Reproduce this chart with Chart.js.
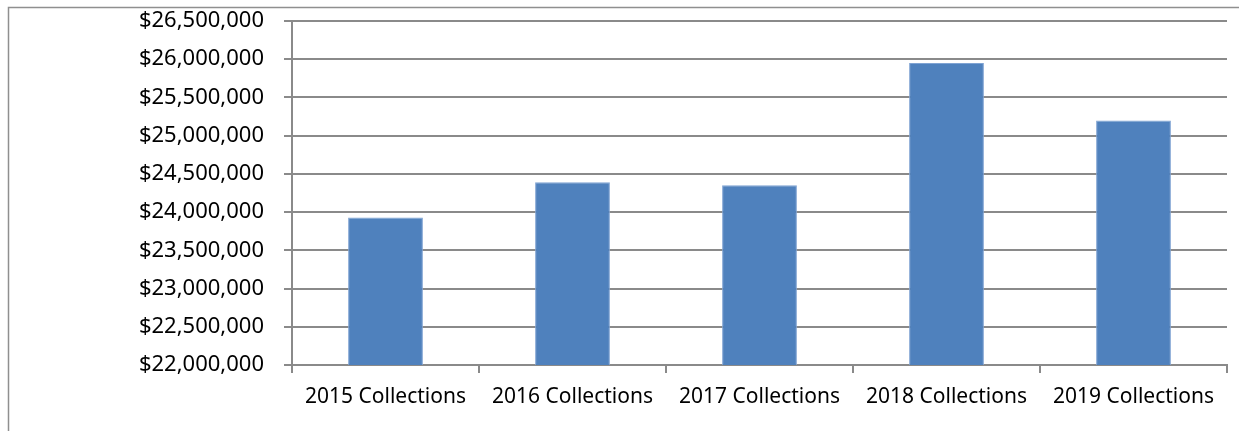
<!DOCTYPE html>
<html>
<head>
<meta charset="utf-8">
<script src="https://cdn.jsdelivr.net/npm/chart.js@4/dist/chart.umd.min.js"></script>
<style>
html,body{margin:0;padding:0;background:#fff;}
#wrap{width:1239px;height:431px;position:relative;}
</style>
</head>
<body>
<div id="wrap"><canvas id="c" width="1239" height="431"></canvas></div>
<script>
const categories = ["2015 Collections","2016 Collections","2017 Collections","2018 Collections","2019 Collections"];
const collections = [23930000, 24390000, 24350000, 25950000, 25200000];
const yMin = 22000000;
const yMax = 26500000;
const yStep = 500000;

const borderPlugin = {
  id: 'outerBorder',
  beforeDraw(chart) {
    const ctx = chart.ctx;
    ctx.save();
    ctx.strokeStyle = '#8f8f8f';
    ctx.lineWidth = 1.5;
    ctx.beginPath();
    ctx.moveTo(8.5, 431);
    ctx.lineTo(8.5, 7.5);
    ctx.lineTo(1239, 7.5);
    ctx.stroke();
    ctx.restore();
  }
};

const FONT = "'Noto Sans', 'Open Sans', sans-serif";

new Chart(document.getElementById('c'), {
  type: 'bar',
  data: {
    labels: categories,
    datasets: [{
      data: collections,
      backgroundColor: '#4f81bd',
      borderColor: '#7fa3d3',
      borderWidth: 1,
      barPercentage: 0.4,
      categoryPercentage: 1.0
    }]
  },
  options: {
    responsive: false,
    animation: false,
    devicePixelRatio: 1,
    layout: { padding: { left: 0, right: 12, top: 21, bottom: 0 } },
    plugins: { legend: { display: false }, tooltip: { enabled: false } },
    scales: {
      x: {
        grid: { display: true, drawOnChartArea: false, drawTicks: true, tickLength: 8, color: '#8a8a8a', lineWidth: 2, offset: true },
        border: { color: '#8a8a8a', width: 2 },
        ticks: { color: '#000', font: { family: FONT, size: 21 }, padding: 11, maxRotation: 0 },
        afterFit(s) { s.height = 66; s.paddingLeft = 0; s.paddingRight = 0; }
      },
      y: {
        min: yMin, max: yMax,
        grid: { color: '#8a8a8a', lineWidth: 2, tickLength: 8 },
        border: { color: '#8a8a8a', width: 2 },
        ticks: {
          stepSize: yStep,
          color: '#000',
          font: { family: FONT, size: 22 },
          padding: 20,
          callback: v => '$' + Number(v).toLocaleString('en-US')
        },
        afterFit(s) { s.width = 292; s.paddingTop = 0; s.paddingBottom = 0; }
      }
    }
  },
  plugins: [borderPlugin]
});
</script>
</body>
</html>
